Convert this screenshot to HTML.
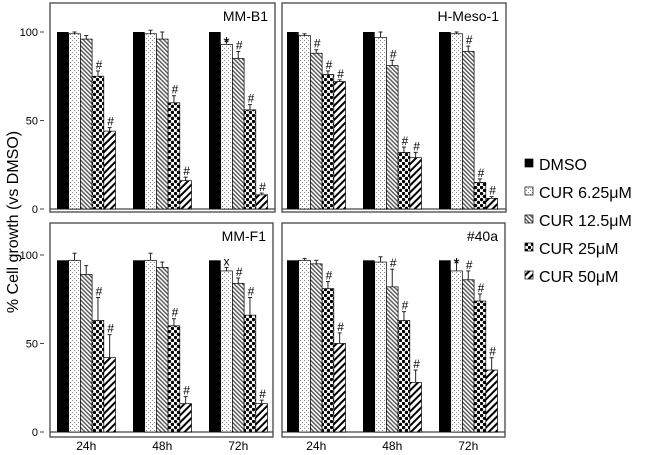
<!DOCTYPE html>
<html><head><meta charset="utf-8"><style>
body{margin:0;background:#fff;}
svg{display:block;font-family:"Liberation Sans",Arial,sans-serif;}
</style></head><body>
<svg id="chart" width="650" height="455" viewBox="0 0 650 455" xmlns="http://www.w3.org/2000/svg">
<defs>
<pattern id="p1" width="4" height="4" patternUnits="userSpaceOnUse"><rect width="4" height="4" fill="#fff"/><rect x="0" y="0" width="1" height="1" fill="#888"/><rect x="2" y="2" width="1" height="1" fill="#888"/></pattern>
<pattern id="p2" width="3" height="3" patternUnits="userSpaceOnUse" patternTransform="rotate(-45)"><rect width="3" height="3" fill="#fff"/><rect width="1.4" height="3" fill="#555"/></pattern>
<pattern id="p3" width="6" height="6" patternUnits="userSpaceOnUse"><rect width="6" height="6" fill="#fff"/><circle cx="1.5" cy="1.5" r="1.7" fill="#000"/><circle cx="4.5" cy="4.5" r="1.7" fill="#000"/></pattern>
<pattern id="p4" width="5" height="5" patternUnits="userSpaceOnUse" patternTransform="rotate(45)"><rect width="5" height="5" fill="#fff"/><rect width="2" height="5" fill="#000"/></pattern>
</defs>
<g id="root"></g>
</svg>
<script>
const groups = ["24h","48h","72h"];
const seriesNames = ["DMSO","CUR 6.25μM","CUR 12.5μM","CUR 25μM","CUR 50μM"];
const yTicks = [0,50,100];
const mmB1 = [[100,99,96,75,44],[100,99,96,60,16],[100,93,85,56,8]];
const mmB1Err = [[0,1,2,3,2],[0,2,4,4,2],[0,2,4,3,1]];
const mmB1Ann = [["","","","#","#"],["","","","#","#"],["","*","#","#","#"]];
const hMeso = [[100,98,88,76,72],[100,97,81,32,29],[100,99,89,15,6]];
const hMesoErr = [[0,1,2,2,1],[0,3,3,3,3],[0,1,3,2,1]];
const hMesoAnn = [["","","#","#","#"],["","","#","#","#"],["","","#","#","#"]];
const mmF1 = [[97,97,89,63,42],[97,97,93,60,16],[97,91,84,66,16]];
const mmF1Err = [[0,4,5,13,13],[0,4,3,4,4],[0,2,3,10,2]];
const mmF1Ann = [["","","","#","#"],["","","","#","#"],["","x","#","#","#"]];
const c40a = [[97,97,95,81,50],[97,96,82,63,28],[97,91,86,74,35]];
const c40aErr = [[0,1,2,4,6],[0,3,10,5,7],[0,5,5,4,7]];
const c40aAnn = [["","","","#","#"],["","","#","#","#"],["","*","#","#","#"]];

const fills=["#000","url(#p1)","url(#p2)","url(#p3)","url(#p4)"];
const NS="http://www.w3.org/2000/svg";
const root=document.getElementById('root');
function mk(t,a,p){const e=document.createElementNS(NS,t);for(const k in a)e.setAttribute(k,a[k]);(p||root).appendChild(e);return e;}

const panels=[
 {name:"MM-B1",d:mmB1,e:mmB1Err,a:mmB1Ann,x0:50,x1:275,top:3,bot:212,base:209,g0:57,ticks:true,xl:false},
 {name:"H-Meso-1",d:hMeso,e:hMesoErr,a:hMesoAnn,x0:282,x1:506,top:3,bot:212,base:209,g0:287,ticks:false,xl:false},
 {name:"MM-F1",d:mmF1,e:mmF1Err,a:mmF1Ann,x0:50,x1:273,top:223,bot:437,base:432,g0:57,ticks:true,xl:true},
 {name:"#40a",d:c40a,e:c40aErr,a:c40aAnn,x0:282,x1:505,top:223,bot:437,base:432,g0:287,ticks:false,xl:true}
];
const BW=11.7, GS=76, PXU=1.77;
panels.forEach((p,pi)=>{
  const g=mk('g',{});
  
  
  const y=v=>p.base-v*PXU;
  const x=(gi,si)=>p.g0+gi*GS+si*BW;
  const box=mk('rect',{x:p.x0,y:p.top,width:p.x1-p.x0,height:p.bot-p.top,fill:'none',stroke:'#444','stroke-width':1.3},g);
  
  
  mk('line',{x1:p.x0,x2:p.x1,y1:p.base,y2:p.base,stroke:'#444','stroke-width':1.2},g);
  const t=mk('text',{x:p.x1-7,y:p.top+18,'text-anchor':'end','font-size':14,fill:'#000'},g);
  t.textContent=p.name;
  
  
  if(p.ticks){yTicks.forEach(v=>{
    const tl=mk('text',{x:38,y:y(v)+4,'text-anchor':'end','font-size':11},g);tl.textContent=v;
    
    
    mk('line',{x1:40,x2:44,y1:y(v),y2:y(v),stroke:'#444'},g);});}
  if(p.xl){groups.forEach((gn,gi)=>{
    const tl=mk('text',{x:x(gi,2.5),y:450,'text-anchor':'middle','font-size':12},g);tl.textContent=gn;
    
    });}
  p.d.forEach((row,gi)=>row.forEach((v,si)=>{
    const r=mk('rect',{x:x(gi,si),y:y(v),width:BW,height:p.base-y(v),fill:fills[si],stroke:'#000','stroke-width':si?0.7:0},g);
    
    
    const er=p.e[gi][si], cx=x(gi,si)+BW/2;
    if(er>0){mk('line',{x1:cx,x2:cx,y1:y(v),y2:y(v+er),stroke:'#222','stroke-width':1},g);
      mk('line',{x1:cx-2,x2:cx+2,y1:y(v+er),y2:y(v+er),stroke:'#222','stroke-width':1},g);}
    const an=p.a[gi][si];
    if(an){const at=mk('text',{x:cx+(an==='#'?1:0),y:y(v+er)-2,'text-anchor':'middle','font-size':an==='*'?16:12},g);
      if(an==='*')at.setAttribute('y',y(v+er)+7);
      at.textContent=an;
      
      }
  }));
});
const yt=mk('text',{x:0,y:0,transform:'translate(18,222) rotate(-90)','text-anchor':'middle','font-size':16});
yt.textContent='% Cell growth (vs DMSO)';


const lg=mk('g',{});


seriesNames.forEach((n,i)=>{
  const yy=165+i*28;
  const sw=mk('rect',{x:525,y:yy-6,width:8,height:8,fill:fills[i],stroke:'#000','stroke-width':0.7},lg);
  
  
  const tx=mk('text',{x:539,y:yy+5,'font-size':16},lg);tx.textContent=n;
  
  
});
</script>
</body></html>
